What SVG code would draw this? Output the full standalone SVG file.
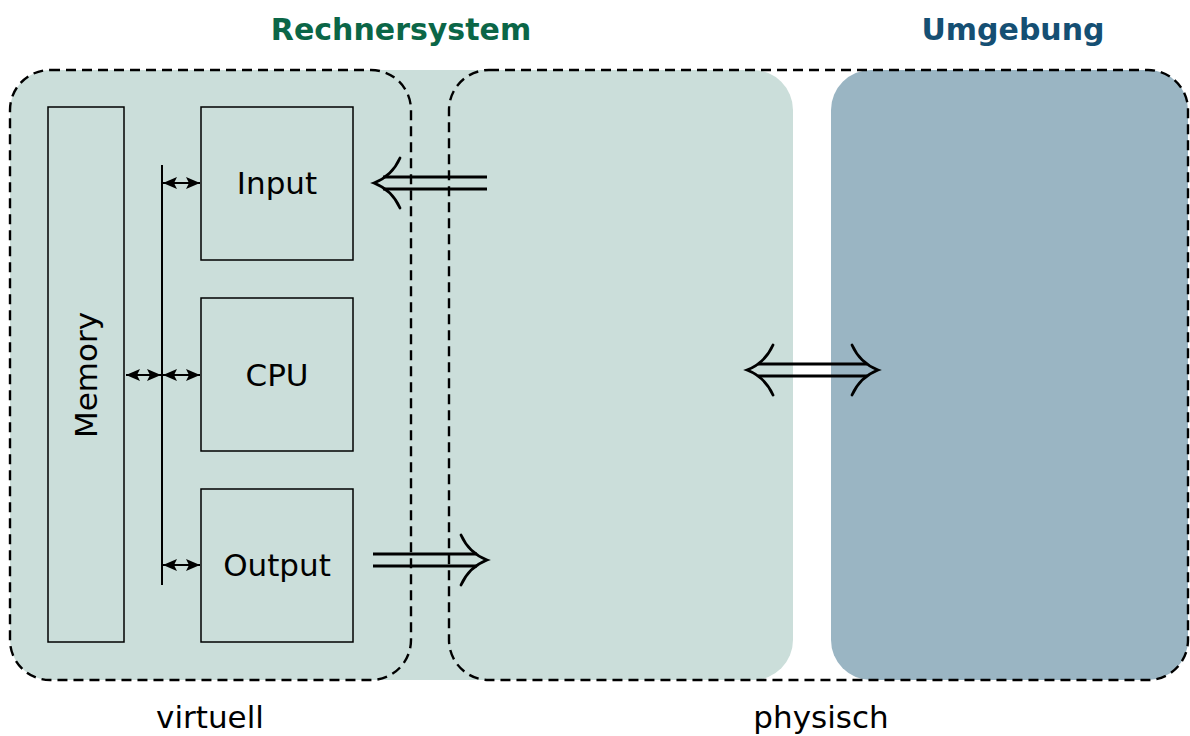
<svg xmlns="http://www.w3.org/2000/svg" width="1190" height="736" viewBox="0 0 1190 736">
  <defs>
    <style>
      text { font-family: "DejaVu Sans", "Liberation Sans", sans-serif; fill: #000; }
      .title { font-weight: bold; font-size: 30px; text-anchor: middle; }
      .label { font-size: 31px; text-anchor: middle; }
      .box { fill: none; stroke: #000; stroke-width: 1.5; }
      .dash { fill: none; stroke: #000; stroke-width: 2.4; stroke-dasharray: 10 6; }
      .line { fill: none; stroke: #000; stroke-width: 2.8; }
      .head { fill: none; stroke: #000; stroke-width: 2.8; stroke-linecap: round; }
      .bus { stroke: #000; stroke-width: 2; }
    </style>
    <marker id="tip" viewBox="0 0 14 12" refX="14" refY="6" markerWidth="14" markerHeight="12" markerUnits="userSpaceOnUse" orient="auto-start-reverse">
      <path d="M0,0 L14,6 L0,12 L3,6 Z" fill="#000"/>
    </marker>
  </defs>

  <!-- background regions -->
  <rect x="10" y="70" width="783" height="610" rx="40" fill="#cbdeda"/>
  <rect x="831" y="70" width="357" height="610" rx="40" fill="#9ab5c3"/>

  <!-- dashed scopes -->
  <rect class="dash" x="10" y="70" width="401" height="610" rx="40"/>
  <rect class="dash" x="449" y="70" width="739" height="610" rx="40"/>

  <!-- titles and scope labels -->
  <text class="title" x="401" y="40" style="fill:#0b6647">Rechnersystem</text>
  <text class="title" x="1013" y="40" style="fill:#154f73">Umgebung</text>
  <text class="label" x="210" y="728">virtuell</text>
  <text class="label" x="821" y="728">physisch</text>

  <!-- nodes -->
  <g id="memory">
    <rect class="box" x="48" y="107" width="76" height="535"/>
    <text class="label" transform="translate(86,375) rotate(-90)" y="11">Memory</text>
  </g>
  <g id="input">
    <rect class="box" x="201" y="107" width="152" height="153"/>
    <text class="label" x="277" y="194">Input</text>
  </g>
  <g id="cpu">
    <rect class="box" x="201" y="298" width="152" height="153"/>
    <text class="label" x="277" y="386">CPU</text>
  </g>
  <g id="output">
    <rect class="box" x="201" y="489" width="152" height="153"/>
    <text class="label" x="277" y="576">Output</text>
  </g>

  <!-- connectors -->
  <g id="connectors">
    <line class="bus" x1="162" y1="165" x2="162" y2="585"/>
    <line class="bus" x1="126" y1="375" x2="161" y2="375" marker-start="url(#tip)" marker-end="url(#tip)"/>
    <line class="bus" x1="163" y1="183" x2="200" y2="183" marker-start="url(#tip)" marker-end="url(#tip)"/>
    <line class="bus" x1="163" y1="375" x2="200" y2="375" marker-start="url(#tip)" marker-end="url(#tip)"/>
    <line class="bus" x1="163" y1="565" x2="200" y2="565" marker-start="url(#tip)" marker-end="url(#tip)"/>

    <!-- input: outside into system -->
    <path class="line" d="M487,177 H383 M487,189 H383"/>
    <path class="head" d="M400,158 Q392,176 374,183 Q392,190 400,208"/>

    <!-- output: system to outside -->
    <path class="line" d="M373,554 H477 M373,566 H477"/>
    <path class="head" d="M461,535 Q469,553 487,560 Q469,567 461,585"/>

    <!-- system and environment -->
    <path class="line" d="M758,364 H867 M758,376 H867"/>
    <path class="head" d="M773,345 Q765,363 747,370 Q765,377 773,395"/>
    <path class="head" d="M852,345 Q860,363 878,370 Q860,377 852,395"/>
  </g>
</svg>
